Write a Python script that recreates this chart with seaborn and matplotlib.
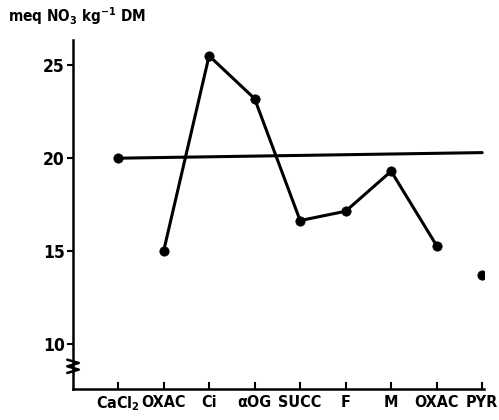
import matplotlib
matplotlib.use("Agg")
import matplotlib.pyplot as plt
import seaborn as sns
import pandas as pd
import numpy as np

categories = ["CaCl$_2$", "OXAC", "Ci", "\u03b1OG", "SUCC", "F", "M", "OXAC", "PYR"]
values = [20.0, 15.0, 25.5, 23.2, 16.65, 17.15, 19.3, 15.3, 13.7]
connected = [False, True, True, True, True, True, True, True, False]
control_values = [20.0, 20.3]
control_positions = [0, 8]
yticks = [10, 15, 20, 25]

sns.set_theme(style="white")
plt.rcParams['font.family'] = ['DejaVu Sans']
plt.rcParams['font.stretch'] = 'condensed'
plt.rcParams['font.weight'] = 'bold'
plt.rcParams['mathtext.default'] = 'regular'

df = pd.DataFrame({"pos": np.arange(len(categories)), "value": values, "conn": connected})
ctrl = pd.DataFrame({"pos": control_positions, "value": control_values})

fig = plt.figure(figsize=(4.99, 4.20), dpi=100)
ax = fig.add_axes([73/499, 1-389/420, (484-73)/499, (389-40)/420])

sns.lineplot(data=ctrl, x="pos", y="value", ax=ax, color="black", linewidth=2.2)
sns.lineplot(data=df[df.conn], x="pos", y="value", ax=ax, color="black", linewidth=2.2)
sns.scatterplot(data=df, x="pos", y="value", ax=ax, color="black", s=45, edgecolor="black", zorder=5)

ax.set_xlim(-0.99, 8.04)
ax.set_ylim(7.6, 26.35)
ax.set_xticks(df["pos"])
ax.set_xticklabels(categories)
ax.set_yticks(yticks)
ax.set_xlabel("")
ax.set_ylabel("")
for s in ["top", "right"]:
    ax.spines[s].set_visible(False)
for s in ["left", "bottom"]:
    ax.spines[s].set_color("black")
    ax.spines[s].set_linewidth(1.8)
ax.tick_params(axis="x", direction="in", length=5, width=1.5, colors="black", labelsize=11.5, pad=4)
ax.tick_params(axis="y", direction="out", length=4, width=1.5, colors="black", labelsize=12.5, pad=2)
ax.tick_params(axis="x", bottom=True)
ax.tick_params(axis="y", left=True)
for lab in ax.get_xticklabels() + ax.get_yticklabels():
    lab.set_fontweight("bold")
    lab.set_fontstretch("condensed")

# axis break symbol
zx = np.array([-0.014, 0.014, -0.014, 0.014, -0.014])
zy = np.array([0.0, 0.0095, 0.019, 0.0285, 0.038])
ax.plot(zx, 0.046 + zy, transform=ax.transAxes, color="black", lw=1.8, clip_on=False)

fig.text(8/499, 1-16/420, "meq NO$_3$ kg$^{-1}$ DM", fontsize=11, fontweight="bold",
         fontstretch="condensed", ha="left", va="center", color="black")

fig.savefig("out.png", dpi=100)
